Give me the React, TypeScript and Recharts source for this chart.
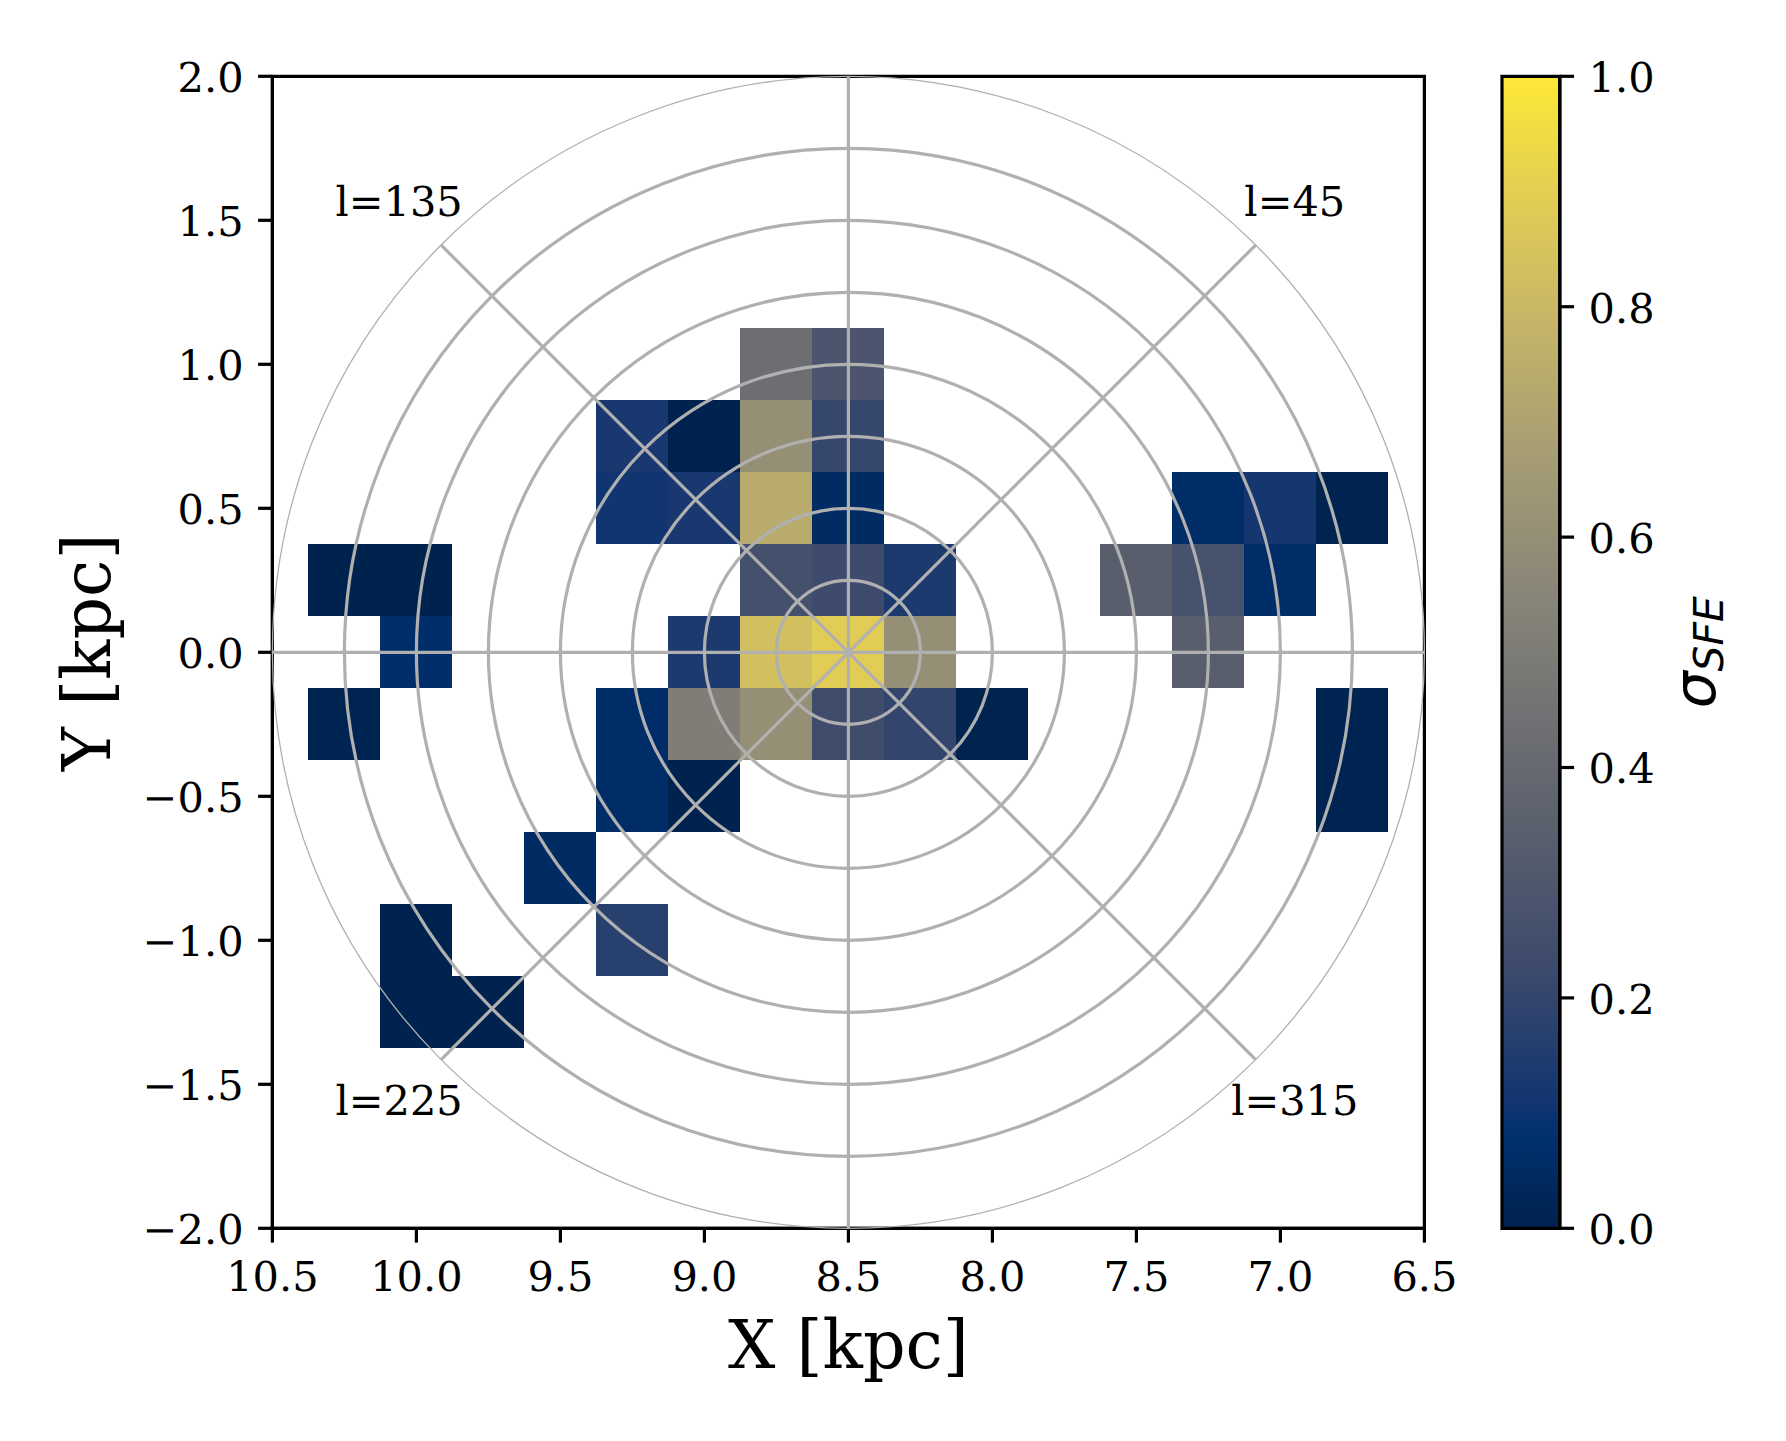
import { Label, ReferenceArea, ReferenceDot, Scatter, ScatterChart, XAxis, YAxis } from 'recharts'

const WIDTH = 1786
const HEIGHT = 1441
const PLOT = { left: 272.4, top: 76.3, size: 1152 }
const BAR = { left: 1501.7, width: 57.8, pad: 10 }
const KPC = PLOT.size / 4
const CELL = PLOT.size / 16
const SERIF = '"DejaVu Serif", serif'
const TICK_FONT = 41.5
const LABEL_FONT = 66.6
const LW = 3.2
const TICK_LEN = 14.3
const GRID = '#b0b0b0'

const xTicks = [6.5, 7, 7.5, 8, 8.5, 9, 9.5, 10, 10.5]
const yTicks = [-2, -1.5, -1, -0.5, 0, 0.5, 1, 1.5, 2]
const barTicks = [0, 0.2, 0.4, 0.6, 0.8, 1]
const barRange = [0, 1]

// galactic longitude rings and spokes around the sun
const sunX = 8.5
const rings = [0.25, 0.5, 0.75, 1, 1.25, 1.5, 1.75]
const outerRing = 2
const spokeEndX = [6.5, 7.086, 8.5, 9.914, 10.5, 9.914, 8.5, 7.086]
const spokeEndY = [0, 1.414, 2, 1.414, 0, -1.414, -2, -1.414]

const noteX = [10.06, 6.95, 10.06, 6.95]
const noteY = [1.565, 1.565, -1.555, -1.555]
const notes = ['l=135', 'l=45', 'l=225', 'l=315']

// sigma_SFE per bin
const cellX = [
  8.75, 8.5,
  9.25, 9, 8.75, 8.5,
  9.25, 9, 8.75, 8.5, 7.25, 7, 6.75,
  10.25, 10, 8.75, 8.5, 8.25, 7.5, 7.25, 7,
  10, 9, 8.75, 8.5, 8.25, 7.25,
  10.25, 9.25, 9, 8.75, 8.5, 8.25, 8, 6.75,
  9.25, 9, 6.75,
  9.5,
  10, 9.25,
  10, 9.75,
]
const cellY = [
  1, 1,
  0.75, 0.75, 0.75, 0.75,
  0.5, 0.5, 0.5, 0.5, 0.5, 0.5, 0.5,
  0.25, 0.25, 0.25, 0.25, 0.25, 0.25, 0.25, 0.25,
  0, 0, 0, 0, 0, 0,
  -0.25, -0.25, -0.25, -0.25, -0.25, -0.25, -0.25, -0.25,
  -0.5, -0.5, -0.5,
  -0.75,
  -1, -1,
  -1.25, -1.25,
]
const cellValue = [
  0.43, 0.29,
  0.13, 0, 0.6, 0.21,
  0.11, 0.13, 0.74, 0.05, 0.06, 0.12, 0.005,
  0, 0, 0.26, 0.235, 0.14, 0.34, 0.27, 0.06,
  0.07, 0.14, 0.83, 0.89, 0.6, 0.34,
  0.01, 0.06, 0.51, 0.6, 0.24, 0.2, 0.005, 0.01,
  0.06, 0, 0.01,
  0.05,
  0, 0.17,
  0, 0,
]

// cividis
const stopAt = [0, 0.08, 1 / 9, 2 / 9, 3 / 9, 4 / 9, 5 / 9, 6 / 9, 7 / 9, 8 / 9, 1]
const stopColor = [
  [0, 34, 78], [0, 48, 111], [18, 53, 112], [59, 73, 108], [87, 93, 109], [112, 113, 115],
  [138, 134, 120], [165, 156, 116], [195, 179, 105], [225, 204, 85], [254, 232, 56],
]

const cividis = (t: number) => {
  let i = 0
  while (i < stopAt.length - 2 && t > stopAt[i + 1]) i++
  const f = (t - stopAt[i]) / (stopAt[i + 1] - stopAt[i])
  const c = stopColor[i].map((v, k) => Math.round(v + (stopColor[i + 1][k] - v) * f))
  return `rgb(${c[0]},${c[1]},${c[2]})`
}

const cells = cellX.map((x, i) => ({ x, y: cellY[i], fill: cividis(cellValue[i]) }))
const barEnds = barRange.map((v) => ({ x: v, y: v }))

const CellShape = ({ cx, cy, payload }: any) => (
  <rect
    x={cx - CELL / 2}
    y={cy - CELL / 2}
    width={CELL}
    height={CELL}
    fill={payload.fill}
    shapeRendering="crispEdges"
  />
)

const NoPoint = () => null

const axisText = { fontSize: TICK_FONT, fontFamily: SERIF, fill: '#000' }
const axisTextY = { ...axisText, dy: 1.2 }
const axisStroke = { stroke: '#000', strokeWidth: LW }
const fmt = (v: number) => v.toFixed(1).replace('-', '\u2212')

const YLabel = () => (
  <text
    transform={`translate(110,${PLOT.top + PLOT.size / 2}) rotate(-90)`}
    textAnchor="middle"
    fontSize={LABEL_FONT}
    fontFamily={SERIF}
    fill="#000"
  >
    Y [kpc]
  </text>
)

function HeatMap() {
  return (
    <ScatterChart
      width={WIDTH}
      height={HEIGHT}
      margin={{ top: PLOT.top, left: 0, right: WIDTH - PLOT.left - PLOT.size, bottom: 0 }}
    >
      <XAxis
        type="number"
        dataKey="x"
        domain={[6.5, 10.5]}
        reversed
        ticks={xTicks}
        interval={0}
        allowDataOverflow
        tick={axisText}
        tickFormatter={fmt}
        tickSize={TICK_LEN}
        tickMargin={19}
        tickLine={axisStroke}
        axisLine={axisStroke}
        height={HEIGHT - PLOT.top - PLOT.size}
      >
        <Label value="X [kpc]" position="insideTop" offset={92} fontSize={LABEL_FONT} fontFamily={SERIF} fill="#000" />
      </XAxis>
      <YAxis
        type="number"
        dataKey="y"
        domain={[-2, 2]}
        ticks={yTicks}
        interval={0}
        allowDataOverflow
        tick={axisTextY}
        tickFormatter={fmt}
        tickSize={TICK_LEN}
        tickMargin={14.5}
        tickLine={axisStroke}
        axisLine={axisStroke}
        width={PLOT.left}
      >
        <Label content={YLabel} />
      </YAxis>
      <ReferenceArea x1={6.5} x2={10.5} y1={-2} y2={2} fill="none" stroke="#000" strokeWidth={LW} />
      <Scatter data={cells} shape={CellShape} isAnimationActive={false} />
      {spokeEndX.map((x, i) => (
        <Scatter
          key={i}
          data={[{ x: sunX, y: 0 }, { x, y: spokeEndY[i] }]}
          line={{ stroke: GRID, strokeWidth: LW }}
          shape={NoPoint}
          isAnimationActive={false}
        />
      ))}
      {rings.map((r) => (
        <ReferenceDot
          key={r}
          x={sunX}
          y={0}
          r={r * KPC}
          fill="none"
          stroke={GRID}
          strokeWidth={LW}
          ifOverflow="visible"
        />
      ))}
      <ReferenceDot x={sunX} y={0} r={outerRing * KPC} fill="none" stroke={GRID} strokeWidth={1.3} ifOverflow="visible" />
      {notes.map((text, i) => (
        <ReferenceDot
          key={text}
          x={noteX[i]}
          y={noteY[i]}
          r={0}
          fill="none"
          stroke="none"
          label={{ value: text, position: 'center', fontSize: TICK_FONT, fontFamily: SERIF, fill: '#000' }}
        />
      ))}
    </ScatterChart>
  )
}

const SigmaLabel = () => (
  <text
    transform={`translate(${1715 - BAR.left + BAR.pad},${PLOT.top + PLOT.size / 2}) rotate(-90)`}
    textAnchor="middle"
    fill="#000"
    fontFamily="DejaVu Sans"
    fontStyle="italic"
  >
    <tspan fontSize={58.3}>σ</tspan>
    <tspan fontSize={40.8} dy={8}>SFE</tspan>
  </text>
)

function ColorBar() {
  const w = WIDTH - BAR.left + BAR.pad
  return (
    <ScatterChart
      width={w}
      height={HEIGHT}
      margin={{ top: PLOT.top, left: BAR.pad, right: 0, bottom: HEIGHT - PLOT.top - PLOT.size }}
    >
      <defs>
        <linearGradient id="cividisBar" x1="0" y1="1" x2="0" y2="0">
          {stopAt.map((t) => (
            <stop key={t} offset={t} stopColor={cividis(t)} />
          ))}
        </linearGradient>
      </defs>
      <XAxis type="number" dataKey="x" domain={[0, 1]} hide />
      <YAxis
        type="number"
        dataKey="y"
        orientation="right"
        domain={[0, 1]}
        ticks={barTicks}
        interval={0}
        tick={axisTextY}
        tickFormatter={fmt}
        tickSize={TICK_LEN}
        tickMargin={14.5}
        tickLine={axisStroke}
        axisLine={axisStroke}
        width={w - BAR.pad - BAR.width}
      >
        <Label content={SigmaLabel} />
      </YAxis>
      <ReferenceArea x1={0} x2={1} y1={0} y2={1} fill="url(#cividisBar)" fillOpacity={1} stroke="#000" strokeWidth={LW} />
      <Scatter data={barEnds} shape={NoPoint} isAnimationActive={false} />
    </ScatterChart>
  )
}

export default function App() {
  return (
    <div style={{ position: 'absolute', left: 0, top: 0, width: WIDTH, height: HEIGHT, background: '#fff' }}>
      <HeatMap />
      <div style={{ position: 'absolute', left: BAR.left - BAR.pad, top: 0 }}>
        <ColorBar />
      </div>
    </div>
  )
}
